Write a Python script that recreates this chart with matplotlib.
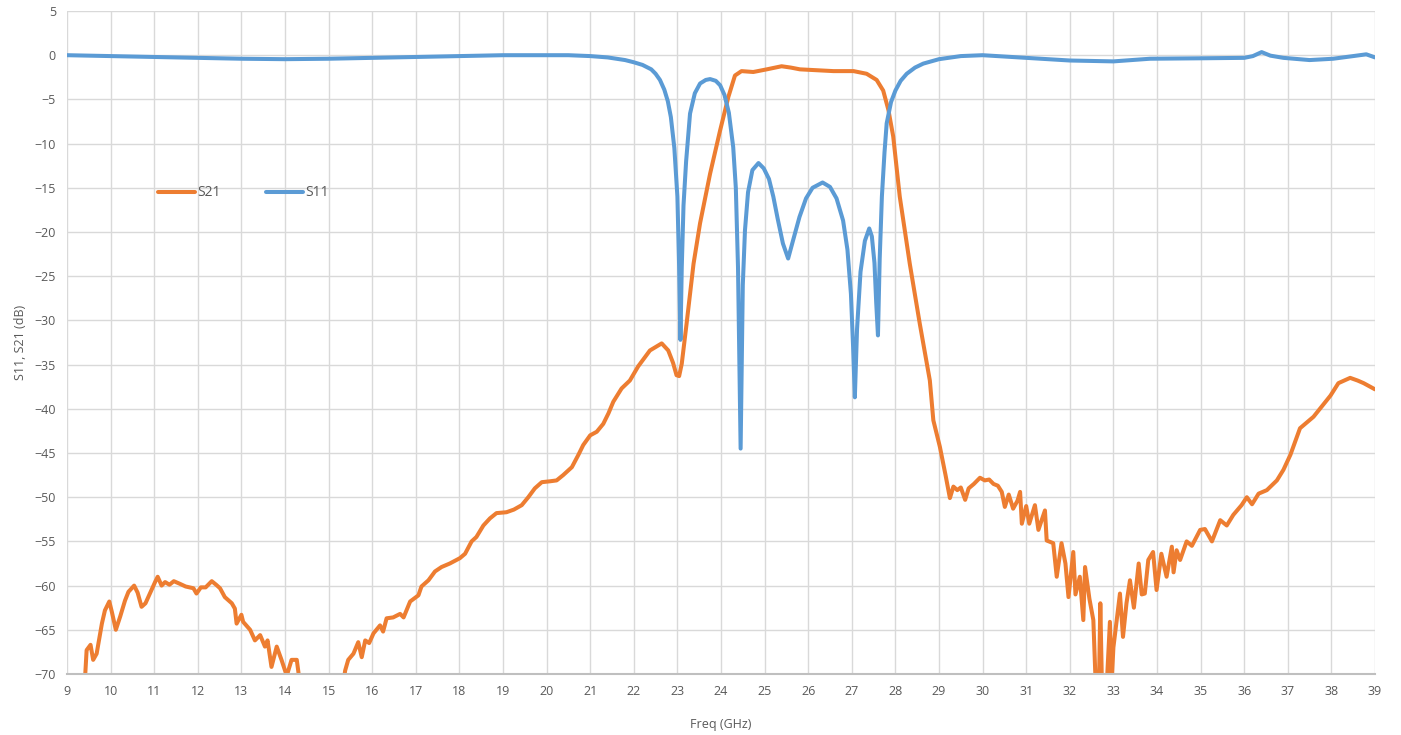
import numpy as np
import matplotlib
matplotlib.use("Agg")
import matplotlib.pyplot as plt

# ---------------- data ----------------
s11_freq = [9, 10, 11, 12, 13, 14, 15, 16, 17, 18, 19, 20, 20.5, 21, 21.4, 21.8, 22.0, 22.2,
            22.4, 22.5, 22.6, 22.7, 22.78, 22.85, 22.93, 23.0, 23.04, 23.07, 23.1, 23.14, 23.2, 23.29,
            23.4, 23.52, 23.65, 23.75, 23.88, 23.98, 24.08, 24.18, 24.28, 24.34, 24.39, 24.45,
            24.5, 24.55, 24.62, 24.72, 24.86, 24.98, 25.1, 25.2, 25.3, 25.42, 25.54, 25.65,
            25.8, 25.95, 26.1, 26.33, 26.5, 26.65, 26.8, 26.9, 26.98, 27.03, 27.07, 27.12,
            27.2, 27.3, 27.4, 27.46, 27.52, 27.56, 27.6, 27.64, 27.69, 27.75, 27.8, 27.9,
            28.0, 28.12, 28.26, 28.45, 28.64, 29.0, 29.5, 30, 31, 32, 33, 33.84, 35, 36, 36.2, 36.4,
            36.6, 36.9, 37.5, 38.04, 38.5, 38.8, 39]
s11_db = [0, -0.1, -0.2, -0.3, -0.4, -0.45, -0.4, -0.3, -0.2, -0.1, 0, 0, 0, -0.1, -0.25, -0.55, -0.8, -1.1,
          -1.6, -2.1, -2.8, -3.9, -5.2, -7.0, -10.5, -16, -24, -32.2, -24, -17, -12, -6.6,
          -4.3, -3.2, -2.8, -2.7, -2.9, -3.4, -4.5, -6.5, -10.4, -15, -24, -44.5,
          -26, -19.8, -15.5, -13, -12.2, -12.8, -14, -16, -18.5, -21.3, -23, -21,
          -18.3, -16.2, -15, -14.4, -14.9, -16.2, -18.7, -22, -27, -33, -38.7, -31,
          -24.5, -21, -19.6, -20.5, -23.5, -28, -31.7, -23, -16, -11, -7.7, -5.3,
          -4.0, -2.9, -2.1, -1.4, -0.95, -0.45, -0.1, 0, -0.3, -0.6, -0.7, -0.4, -0.35, -0.3, -0.1, 0.35,
          -0.05, -0.3, -0.55, -0.4, -0.1, 0.1, -0.25]

s21_freq = [9.41, 9.42, 9.45, 9.54, 9.6, 9.68, 9.8, 9.87, 9.97, 10.03, 10.12, 10.22, 10.33, 10.41,
            10.54, 10.62, 10.71, 10.8, 10.9, 11.02, 11.08, 11.17, 11.25, 11.35, 11.45, 11.59,
            11.72, 11.9, 11.97, 12.07, 12.18, 12.32, 12.42, 12.51, 12.62, 12.78, 12.85, 12.89,
            13.0, 13.04, 13.2, 13.31, 13.43, 13.54, 13.6, 13.69, 13.81, 13.92, 14.04, 14.15,
            14.27, 14.34, 14.4, 15.3, 15.34, 15.38, 15.45, 15.57, 15.68, 15.76, 15.84, 15.93,
            16.03, 16.18, 16.25, 16.33, 16.48, 16.64, 16.72, 16.87, 17.06, 17.13, 17.29, 17.44,
            17.59, 17.78, 18.01, 18.13, 18.28, 18.39, 18.55, 18.7, 18.85, 19.08, 19.25, 19.43,
            19.58, 19.73, 19.89, 20.08, 20.23, 20.38, 20.58, 20.73, 20.84, 21.0, 21.15, 21.3,
            21.42, 21.53, 21.72, 21.91, 22.1, 22.37, 22.64, 22.79, 22.9, 22.98, 23.04, 23.1,
            23.21, 23.37, 23.52, 23.75, 23.98, 24.17, 24.32, 24.47, 24.74, 25.05, 25.39, 25.6,
            25.81, 26.58, 27.04, 27.34, 27.57, 27.72, 27.84, 27.95, 28.1, 28.33, 28.56, 28.79,
            28.87, 29.02, 29.15, 29.25, 29.33, 29.42, 29.5, 29.6, 29.68, 29.8, 29.94, 30.05,
            30.15, 30.25, 30.35, 30.44, 30.51, 30.6, 30.7, 30.8, 30.86, 30.9, 31.0, 31.07,
            31.2, 31.28, 31.43, 31.47, 31.62, 31.7, 31.81, 31.9, 31.97, 32.08, 32.13, 32.23,
            32.31, 32.35, 32.45, 32.54, 32.6, 32.67, 32.7, 32.74, 32.85, 32.92, 32.96, 33.0,
            33.15, 33.22, 33.3, 33.38, 33.47, 33.58, 33.65, 33.72, 33.8, 33.91, 33.99, 34.1,
            34.22, 34.34, 34.38, 34.45, 34.53, 34.68, 34.8, 34.99, 35.1, 35.26, 35.45, 35.6,
            35.75, 35.94, 36.06, 36.18, 36.33, 36.52, 36.75, 36.9, 37.06, 37.28, 37.59, 37.98,
            38.16, 38.43, 38.6, 38.74, 39.0]
s21_db = [-72, -69.9, -67.3, -66.7, -68.4, -67.7, -64.3, -62.8, -61.8, -63, -65, -63.5, -61.7, -60.7,
          -60, -60.8, -62.4, -62, -60.9, -59.6, -59, -60, -59.6, -59.9, -59.5, -59.8,
          -60.1, -60.3, -60.9, -60.2, -60.2, -59.5, -59.9, -60.3, -61.3, -62, -62.6, -64.3,
          -63.3, -64.1, -65, -66.2, -65.6, -66.9, -66.2, -69.2, -66.9, -68.4, -70.2, -68.4,
          -68.4, -71, -73, -73, -71, -69.6, -68.4, -67.7, -66.4, -68.1, -66.2, -66.5,
          -65.4, -64.5, -65.2, -63.7, -63.6, -63.2, -63.6, -61.8, -61.1, -60.1, -59.4, -58.4,
          -57.9, -57.5, -56.9, -56.4, -55, -54.5, -53.2, -52.4, -51.8, -51.7, -51.4, -50.9,
          -50, -49, -48.3, -48.2, -48.1, -47.5, -46.6, -45.2, -44.1, -43, -42.6, -41.7,
          -40.5, -39.2, -37.7, -36.8, -35.2, -33.4, -32.6, -33.4, -34.8, -36.2, -36.3, -34.9,
          -30.4, -23.6, -19, -13.4, -8.5, -4.7, -2.3, -1.8, -1.9, -1.6, -1.25, -1.4,
          -1.6, -1.8, -1.8, -2.1, -2.8, -4, -6.2, -9.2, -16, -23.6, -30.4, -36.8,
          -41.3, -44.3, -47.5, -50.1, -48.8, -49.2, -48.9, -50.3, -49, -48.5, -47.8, -48.1,
          -48.0, -48.5, -48.7, -49.4, -51.1, -49.7, -51.3, -50.4, -49.4, -53, -51, -53,
          -50.9, -53.7, -51.5, -54.9, -55.2, -59, -55.2, -57.5, -61.3, -56.2, -61, -59,
          -63.9, -57.9, -61.5, -63.9, -72, -71, -62, -72, -71, -64.1, -71, -67,
          -60.9, -65.8, -62, -59.4, -62.5, -57.5, -61, -60.9, -57.1, -56.2, -60.5, -56.4,
          -59, -55.6, -58.5, -56, -57.1, -55, -55.5, -53.7, -53.6, -55, -52.6, -53.2,
          -52, -50.9, -50, -50.8, -49.6, -49.2, -48.1, -46.9, -45.2, -42.2, -40.9, -38.5,
          -37.1, -36.5, -36.8, -37.1, -37.8]

x_ticks = list(range(9, 40))
y_ticks = list(range(-70, 6, 5))

# ---------------- figure ----------------
plt.rcParams['font.family'] = ['Open Sans', 'DejaVu Sans']
fig = plt.figure(figsize=(14.01, 7.35), dpi=100)
ax = fig.add_axes([67/1401, 1-674/735, (1375-67)/1401, (674-11)/735])

ax.plot(s21_freq, s21_db, color='#ED7D31', lw=2.9, label='S21', solid_joinstyle='round', solid_capstyle='round')
ax.plot(s11_freq, s11_db, color='#5B9BD5', lw=2.9, label='S11', solid_joinstyle='round', solid_capstyle='round')

ax.set_xlim(9, 39)
ax.set_ylim(-70, 5)
ax.set_xticks(x_ticks)
ax.set_yticks(y_ticks)
ax.grid(True, color='#D9D9D9', lw=1)
ax.set_axisbelow(True)
for s in ['top', 'right', 'left']:
    ax.spines[s].set_visible(False)
ax.spines['bottom'].set_color('#BFBFBF')
ax.spines['bottom'].set_linewidth(1.5)
ax.tick_params(length=0, labelsize=9, colors='#595959', pad=8)

ax.set_xlabel('Freq (GHz)', fontsize=9, color='#595959', labelpad=14)
ax.set_ylabel('S11, S21 (dB)', fontsize=9, color='#595959', labelpad=5)

leg = ax.legend(loc='center left', bbox_to_anchor=(0.0696, 0.7255), ncol=2, frameon=False,
                fontsize=10, handlelength=2.66, handletextpad=0.15, columnspacing=3.3,
                borderpad=0, borderaxespad=0)
for t in leg.get_texts():
    t.set_color('#595959')

fig.savefig('out.png', dpi=100)
